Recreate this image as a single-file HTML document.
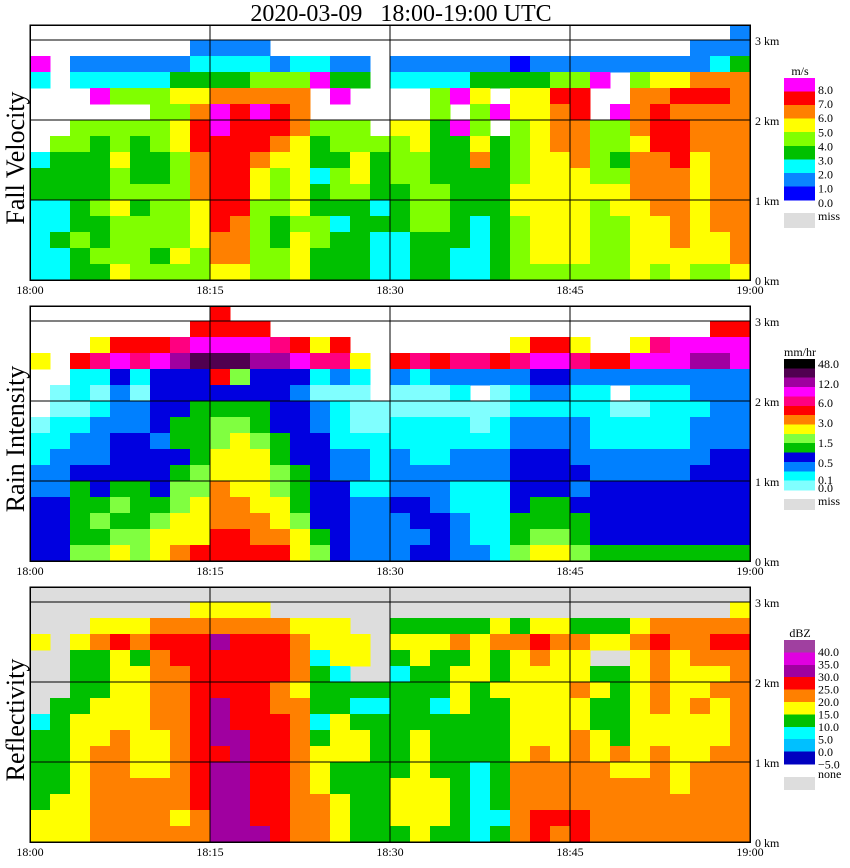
<!DOCTYPE html>
<html><head><meta charset="utf-8">
<style>
html,body{margin:0;padding:0;background:#fff;}
svg{display:block;font-family:"Liberation Serif",serif;}
</style></head>
<body>
<svg id="chart" width="850" height="868" viewBox="0 0 850 868" xmlns="http://www.w3.org/2000/svg" shape-rendering="crispEdges">
<text x="401" y="21" font-size="24" text-anchor="middle" style="white-space:pre">2020-03-09   18:00-19:00 UTC</text>
<g id="panels"></g>
</svg>
<script>
// ---- shared axes data ----
const timeTicks = ["18:00","18:15","18:30","18:45","19:00"];
const timeTickMinutes = [0,15,30,45,60];
const heightTicks = [0,1,2,3];
const rowTopKm = [3.2,3.0,2.8,2.6,2.4,2.2,2.0,1.8,1.6,1.4,1.2,1.0,0.8,0.6,0.4,0.2];

// ---- panel 1: fall velocity (column strings, top->bottom, '.' = empty) ----
const fallVelocity = [
"..82....23322222",".......433322322","..12..4433333433","..128.4333343343",
"..124.4454454445","..124.4333434444","..12444433444434","..13545544444454",
".123567766655544",".123688777777665",".123677777776665",".124687765544444",
"..14677654443344","..24666555554555","..28..4332334433","..138.4434432333",
"..13..4455433333",".......433323222","..12..5444333222","..12..5544444333",
"..12443333444333","..128.8333333322","..13544563332222","..13.8.333333333",
"..03554444554444","..13555555555554","..14766655555554","..14776665555554",
"..18..4444544444","..1..84434554444","..14666566655555","..15677766665554",
"..15767776666655",".116766655555554",".126766666666554","1136666666666665"];
const fallLabels = ["8.0","7.0","6.0","5.0","4.0","3.0","2.0","1.0","0.0"];
const fallColors = ["#0000ff","#0a84ff","#00ffff","#00c000","#80ff00","#ffff00","#ff8000","#ff0000","#ff00ff"];

// ---- panel 2: rain intensity ----
const rainIntensity = [
"...6...011223333",".....00112223333","...8110122344445","..69101222334545",
"..8A322233345456","..89102233344455","..8A333323334566","..9B333443455667",
".8AC334444556668","88AC834556677788",".8AC534566667788",".8AB334456666778",
"..9B333344556678","..8A323333444566","..69102233333345","..89201112233333",
"...6100012212222","......0011112222","...8200112223222","...9100111223323",
"...8200111222333","...9210112211222","...92.0012211112","...8200112211111",
"..69211223333445","..8A321223334456","..8A321223334456","..69211222323445",
"...8211112233334","...82.0112233334","..6A210112233334","..9A211112233334",
"..AA211112233334","..AB221222333334",".8AB222223333334",".8AA222223333334"];
const rainLabels = ["48.0","12.0","6.0","3.0","1.5","0.5","0.1","0.0"];
const rainColors = ["#80ffff","#00ffff","#0080ff","#0000e0","#00c000","#80ff40","#ffff00","#ff8000","#ff0000","#ff0080","#ff00ff","#a000a0","#500050","#000000"];

// ---- panel 3: reflectivity ('-' = none) ----
const reflectivity = [
"---4----23333344","-------333333444","---4333344444444","--45333444555555",
"--46444445555555","--45344444445555","--56555554445555","--566555555555455".slice(0,16),
"-456666666666655","-457666777677777","-456666667777777","-456666666666667",
"--56665566666666","--455545555555555".slice(0,16),"--44233323444555","--44423344433444",
"---44-3234433333","------3233333333","--34323333334443","--34433334444444",
"--34333233334443","--35344433333333","--34443333322222","--45334333333323",
"--35444444455555","--46544444555566","--45444444455565","--35445445555566",
"--34-34334455555","--34-33333545555","--45444444445555","--56555544555555",
"--55444444444555","--55544544455555","--56545444555555","-456555555555555"];
const reflLabels = ["40.0","35.0","30.0","25.0","20.0","15.0","10.0","5.0","0.0","\u22125.0"];
const reflColors = ["#0000c0","#00c0ff","#00ffff","#00c000","#ffff00","#ff8000","#ff0000","#a000a0","#e000e0","#a040a0"];

const codeKey = "0123456789ABCD";
const NS = "http://www.w3.org/2000/svg";
const X0 = 30, X1 = 750;
function xScale(min){ return X0 + (X1 - X0) * min / 60; }
function mk(tag, attrs, parent){ const e=document.createElementNS(NS,tag); for(const k in attrs) e.setAttribute(k,attrs[k]); parent.appendChild(e); return e; }

function drawPanel(off, title, data, colors, bg, labels, unit, bandTop, bandBottom, labelYs, missLabel, missBox, missLabelY){
  const root = document.getElementById('panels');
  const g = mk('g',{},root);
  
  
  const base = 280 + off;
  const yScale = km => base - km*80;
  const top = 25 + off;
  const bgRect = mk('rect',{x:X0,y:top,width:X1-X0,height:base-top,fill:bg},g);
  
  
  const clipId = 'clip'+off;
  const cp = mk('clipPath',{id:clipId},g);
  mk('rect',{x:X0,y:top,width:X1-X0,height:base-top},cp);
  const cells = mk('g',{'clip-path':'url(#'+clipId+')'},g);
  const n = data.length;
  for(let c=0;c<n;c++){
    const col = data[c];
    for(let r=0;r<col.length;r++){
      const idx = codeKey.indexOf(col[r]);
      if(idx<0) continue;
      const x0 = xScale(c*60/n), x1 = xScale((c+1)*60/n);
      const y0 = yScale(rowTopKm[r]), y1 = yScale(rowTopKm[r]-0.2);
      const rc = mk('rect',{x:x0,y:y0,width:x1-x0+0.5,height:y1-y0+0.5,fill:colors[idx]},cells);
      
      
    }
  }
  for(const h of heightTicks){
    const y = yScale(h);
    const ln = mk('line',{x1:X0,x2:X1,y1:y,y2:y,stroke:'#000','stroke-width':1},g);
    
    
    const t = mk('text',{x:755,y:y+5,'font-size':12},g);
    t.textContent = h+' km';
    
    
  }
  for(let i=0;i<timeTickMinutes.length;i++){
    const x = xScale(timeTickMinutes[i]);
    const ln = mk('line',{x1:x,x2:x,y1:top,y2:base,stroke:'#000','stroke-width':1},g);
    
    
    const t = mk('text',{x:x,y:base+14,'font-size':12,'text-anchor':'middle'},g);
    t.textContent = timeTicks[i];
    
    
  }
  const bx = mk('rect',{x:X0,y:top,width:X1-X0,height:base-top,fill:'none',stroke:'#000','stroke-width':1.5},g);
  
  
  const yt = mk('text',{x:0,y:0,'font-size':26,'text-anchor':'middle',transform:'translate(24,'+(158+off)+') rotate(-90)'},g);
  yt.textContent = title;
  
  
  const nb = colors.length, bh = (bandBottom-bandTop)/nb;
  for(let i=0;i<nb;i++){
    const lr = mk('rect',{x:784,y:bandTop+i*bh,width:31,height:bh+0.5,fill:colors[nb-1-i]},g);
    
    
  }
  const ut = mk('text',{x:800,y:bandTop-3,'font-size':12,'text-anchor':'middle'},g);
  ut.textContent = unit;
  
  
  for(let i=0;i<labels.length;i++){
    const lt = mk('text',{x:818,y:labelYs[i]+4,'font-size':12},g);
    lt.textContent = labels[i];
    
    
  }
  const mb = mk('rect',{x:784,y:missBox[0],width:31,height:missBox[1],fill:'#dddddd'},g);
  
  
  const ml = mk('text',{x:818,y:missLabelY+4,'font-size':12},g);
  ml.textContent = missLabel;
  
  
}
function seq(a,step,n){ const r=[]; for(let i=0;i<n;i++) r.push(a+step*i); return r; }
drawPanel(0,'Fall Velocity',fallVelocity,fallColors,'#ffffff',fallLabels,'m/s',78,200,seq(90,14.1,9),'miss',[213,15],216);
drawPanel(281,'Rain Intensity',rainIntensity,rainColors,'#ffffff',rainLabels,'mm/hr',359,490,[364,384,403,423,443,463,480,488],'miss',[499,11],501);
drawPanel(562,'Reflectivity',reflectivity,reflColors,'#dddddd',reflLabels,'dBZ',640,764,seq(652,12.5,10),'none',[777,13],774);
</script>
</body></html>
